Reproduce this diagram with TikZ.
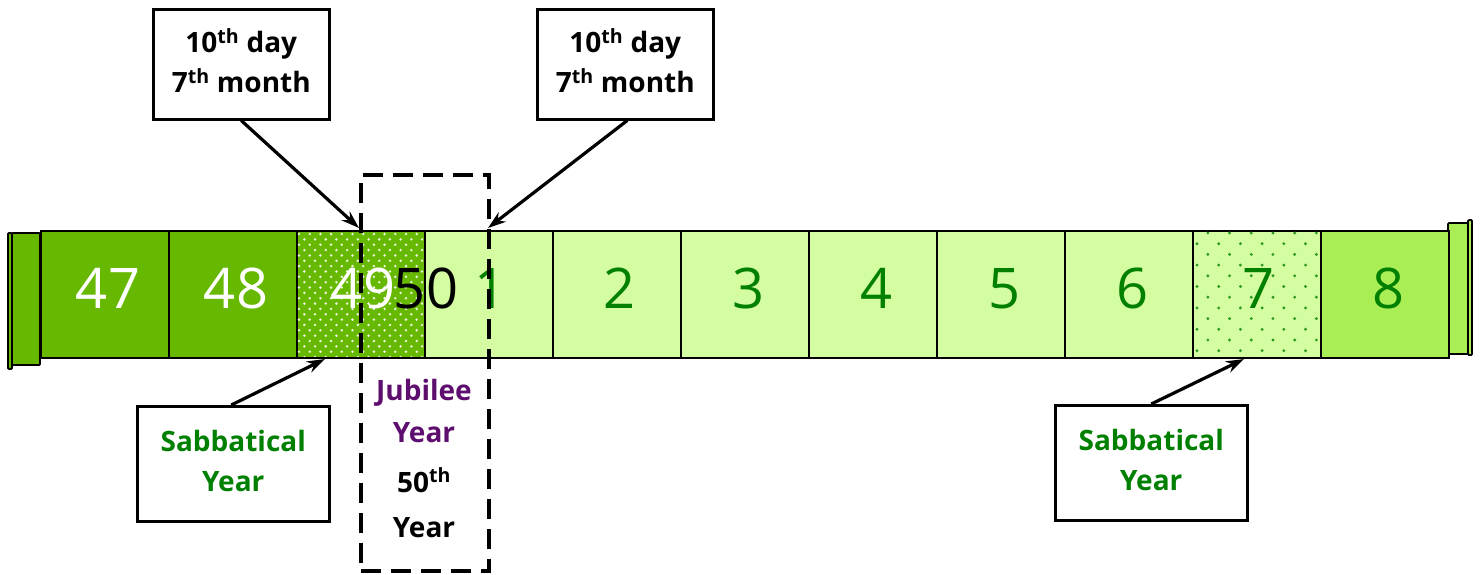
\documentclass[tikz,border=0pt]{standalone}
\usepackage{fontspec}
\setmainfont{Open Sans}
\usetikzlibrary{arrows.meta}
\definecolor{dkg}{HTML}{66B800}
\definecolor{ltg}{HTML}{D4FCA0}
\definecolor{mdg}{HTML}{AAEE55}
\definecolor{txg}{HTML}{008000}
\definecolor{jub}{HTML}{5E0E6E}
\begin{document}
\begin{tikzpicture}[x=1pt,y=-1pt,
 cell/.style={draw=black,line width=1.8pt,minimum width=128pt,minimum height=127pt,inner sep=0pt,anchor=north west},
 num/.style={font=\fontsize{56}{56}\selectfont,anchor=base,inner sep=0pt},
 callout/.style={draw=black,line width=2.5pt,fill=white,inner sep=0pt,anchor=north west},
 ctext/.style={inner sep=0pt,align=center,font=\bfseries\fontsize{28}{40}\selectfont},
 lbl/.style={font=\bfseries\fontsize{28}{40}\selectfont,inner sep=0pt,anchor=base},
 arr/.style={line width=3.2pt,-{Stealth[length=18pt,width=12pt]}},
 capbox/.style={draw=black,line width=1.8pt,rounded corners=1pt},
]
\useasboundingbox (0,0) rectangle (1482,574);
% caps
\draw[capbox,fill=dkg] (8,233) rectangle (12,369);
\draw[capbox,fill=dkg] (12,233) rectangle (40,365);
\draw[capbox,fill=mdg] (1468,220) rectangle (1472,355);
\draw[capbox,fill=mdg] (1448,223) rectangle (1468,354);
% cells
\node[cell,fill=dkg] (c47) at (40,230) {};
\node[cell,fill=dkg] (c48) at (168,230) {};
\node[cell,fill=dkg] (c49) at (296,230) {};
\node[cell,fill=ltg] (c1) at (424,230) {};
\node[cell,fill=ltg] (c2) at (552,230) {};
\node[cell,fill=ltg] (c3) at (680,230) {};
\node[cell,fill=ltg] (c4) at (808,230) {};
\node[cell,fill=ltg] (c5) at (936,230) {};
\node[cell,fill=ltg] (c6) at (1064,230) {};
\node[cell,fill=ltg] (c7) at (1192,230) {};
\node[cell,fill=mdg] (c8) at (1320,230) {};
% dot patterns
\begin{scope}
\clip (297,231) rectangle (423,356);
\foreach \j in {0,...,24} {
  \foreach \i in {0,...,12} {
    \fill[white!85!dkg] ({299+\i*10.7+mod(\j,2)*5.35},{234+\j*5.35}) circle (1.4);
  }
}
\end{scope}
\begin{scope}
\clip (1193,231) rectangle (1319,356);
\foreach \j in {0,...,12} {
  \foreach \i in {0,...,6} {
    \fill[txg!80!ltg] ({1197+\i*21.7+mod(\j+1,2)*10.85},{233+\j*10.7}) circle (1.6);
  }
}
\end{scope}
% numbers
\node[num,white] (t47) at (108,308) {47};
\node[num,white] (t48) at (236,308) {48};
\node[num,white] (t49) at (363,308) {49};
\node[num,black] (t50) at (426,308) {50};
\node[num,txg] (t1) at (491,308) {1};
\node[num,txg] (t2) at (620,308) {2};
\node[num,txg] (t3) at (748,308) {3};
\node[num,txg] (t4) at (876,308) {4};
\node[num,txg] (t5) at (1004,308) {5};
\node[num,txg] (t6) at (1132,308) {6};
\node[num,txg] (t7) at (1258,308) {7};
\node[num,txg] (t8) at (1388,308) {8};
% jubilee dashed box
\node[draw=black,line width=4pt,dash pattern=on 20pt off 10pt,minimum width=128pt,minimum height=396pt,inner sep=0pt,anchor=north west] (jb) at (359,173) {};
\node[lbl,jub] (j1) at (424,400) {Jubilee};
\node[lbl,jub] (j2) at (424,442) {Year};
\node[lbl,black] (j3) at (424,492) {50\textsuperscript{th}};
\node[lbl,black] (j4) at (424,537) {Year};
% callouts
\node[callout,minimum width=176pt,minimum height=110pt] (b1) at (152,8) {};
\node[callout,minimum width=176pt,minimum height=110pt] (b2) at (536,8) {};
\node[callout,minimum width=192pt,minimum height=115pt] (b3) at (136,405) {};
\node[callout,minimum width=192pt,minimum height=115pt] (b4) at (1054,404) {};
\node[ctext] (b1t) at ([yshift=4pt]b1.center) {10\textsuperscript{th} day\\7\textsuperscript{th} month};
\node[ctext] (b2t) at ([yshift=4pt]b2.center) {10\textsuperscript{th} day\\7\textsuperscript{th} month};
\node[ctext,text=txg] (b3t) at ([yshift=3pt]b3.center) {Sabbatical\\Year};
\node[ctext,text=txg] (b4t) at ([yshift=3pt]b4.center) {Sabbatical\\Year};
% arrow targets
\coordinate (p1) at (359,228);
\coordinate (p2) at (488,228);
\coordinate (p3) at (325,359);
\coordinate (p4) at (1244,359);
\draw[arr] (b1.south) -- (p1);
\draw[arr] ([xshift=2pt]b2.south) -- (p2);
\draw[arr] ([xshift=-2pt]b3.north) -- (p3);
\draw[arr] (b4.north) -- (p4);
\end{tikzpicture}
\end{document}
